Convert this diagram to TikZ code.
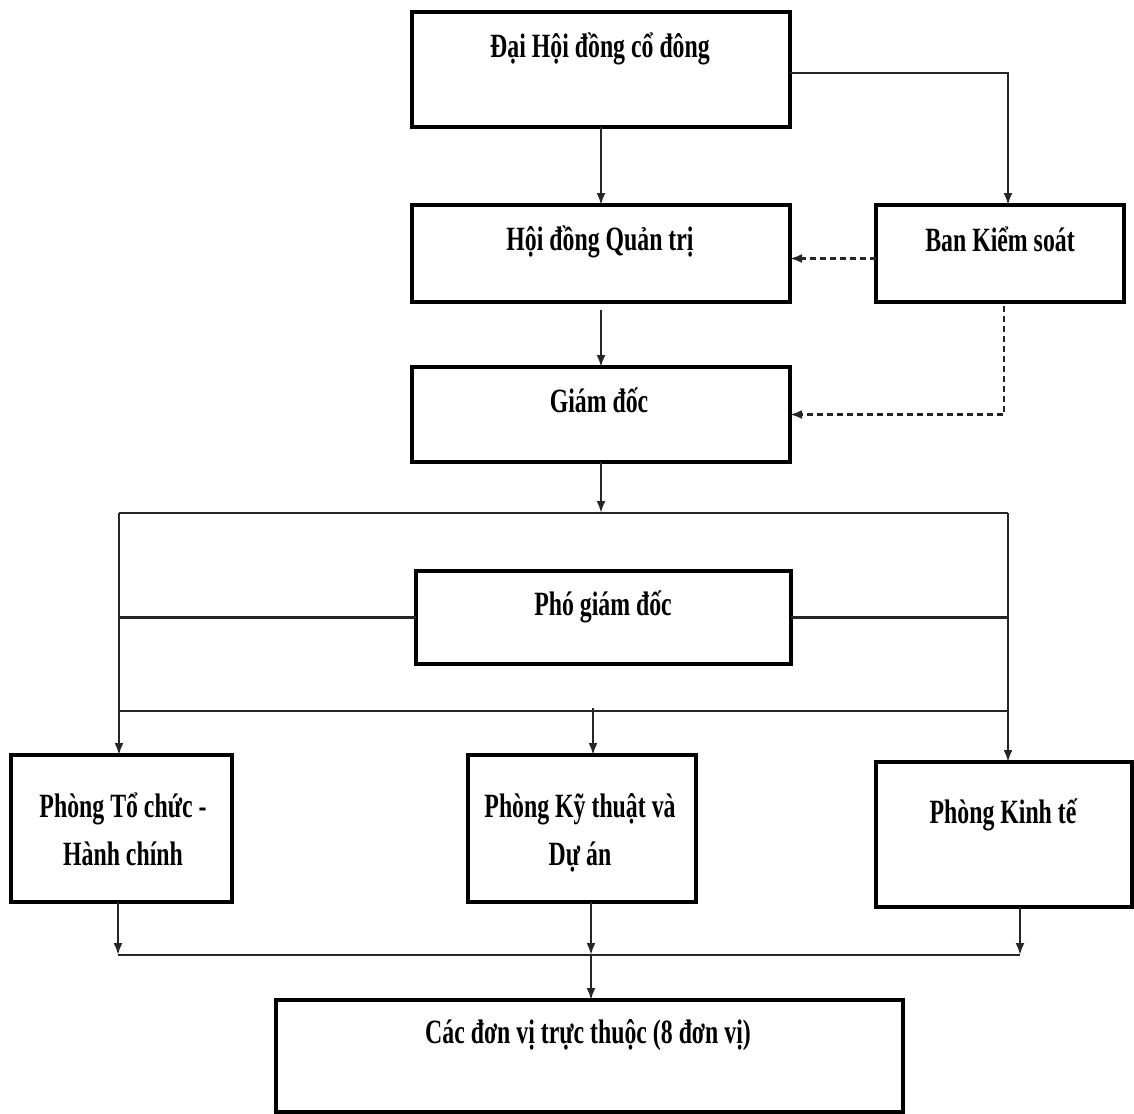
\documentclass[tikz,border=0pt]{standalone}
\usepackage{fontspec}
\setmainfont{Liberation Serif}[FakeStretch=0.70]
\usetikzlibrary{arrows.meta,calc}
\begin{document}
\begin{tikzpicture}[x=1pt,y=-1pt,
  box/.style={draw=black,line width=3.8pt,inner sep=0pt,outer sep=0pt},
  lbl/.style={inner sep=0pt,anchor=base,font=\fontsize{34}{40}\selectfont\bfseries},
  conn/.style={line width=2.2pt,draw=black!85},
  arr/.style={conn,-{Latex[length=12pt,width=9pt]}},
  darr/.style={arr,dash pattern=on 6pt off 4pt}
]
\useasboundingbox (0,0) rectangle (1134,1113);
% boxes
\node[box,minimum width=378pt,minimum height=115pt] (dh) at (601,69.5) {};
\node[box,minimum width=378pt,minimum height=97pt] (hd) at (601,253.5) {};
\node[box,minimum width=248pt,minimum height=97pt] (bks) at (1000,253.5) {};
\node[box,minimum width=378pt,minimum height=95pt] (gd) at (601,414.5) {};
\node[box,minimum width=375pt,minimum height=93pt] (pgd) at (603.5,617.5) {};
\node[box,minimum width=221pt,minimum height=147pt] (ptc) at (121.5,828.5) {};
\node[box,minimum width=228pt,minimum height=147pt] (pkt) at (582,828.5) {};
\node[box,minimum width=256pt,minimum height=145pt] (pke) at (1004,834.5) {};
\node[box,minimum width=627pt,minimum height=112pt] (cdv) at (589.5,1056) {};
% texts
\node[lbl] (tdh) at (600,58) {Đại Hội đồng cổ đông};
\node[lbl] (thd) at (600,250) {Hội đồng Quản trị};
\node[lbl] (tbks) at (1000,251) {Ban Kiểm soát};
\node[lbl] (tgd) at (599,412) {Giám đốc};
\node[lbl] (tpgd) at (603,615) {Phó giám đốc};
\node[lbl] (tptc1) at (123,817) {Phòng Tổ chức -};
\node[lbl] (tptc2) at (123,865) {Hành chính};
\node[lbl] (tpkt1) at (580,817) {Phòng Kỹ thuật và};
\node[lbl] (tpkt2) at (580,865) {Dự án};
\node[lbl] (tpke) at (1003,823) {Phòng Kinh tế};
\node[lbl] (tcdv) at (588,1043) {Các đơn vị trực thuộc (8 đơn vị)};
% bus coordinates
\coordinate (b1L) at (119,513);
\coordinate (b1R) at (1008,513);
\coordinate (b2L) at (119,711);
\coordinate (b2R) at (1008,711);
\coordinate (b2M) at (593,708);
\coordinate (b3L) at (118,955);
\coordinate (b3R) at (1020,955);
\coordinate (b3M) at (591,955);
% connectors
\draw[arr] (dh.south) -- (hd.north);
\draw[arr] ([yshift=-3.5pt]dh.east) -| ([xshift=8pt]bks.north);
\draw[darr] ([yshift=-5pt]bks.west) -- ([yshift=-5pt]hd.east);
\draw[darr] ([xshift=4pt,yshift=-4pt]bks.south) |- (gd.east);
\draw[arr] ([yshift=-8pt]hd.south) -- (gd.north);
\draw[arr] (gd.south) -- (gd.south |- b1L);
\draw[conn] (b1L) -- (b1R);
\draw[arr] (b1L) -- (b1L |- ptc.north);
\draw[arr] (b1R) -- (b1R |- pke.north);
\draw[conn] (pgd.west) -- (pgd.west -| b1L);
\draw[conn] (pgd.east) -- (pgd.east -| b1R);
\draw[conn] (b2L) -- (b2R);
\draw[arr] (b2M) -- (b2M |- pkt.north);
\draw[arr] (b3L |- ptc.south) -- (b3L);
\draw[arr] (b3M |- pkt.south) -- (b3M);
\draw[arr] (b3R |- pke.south) -- (b3R);
\draw[conn] (b3L) -- (b3R);
\draw[arr] (b3M) -- (b3M |- cdv.north);
\end{tikzpicture}
\end{document}
